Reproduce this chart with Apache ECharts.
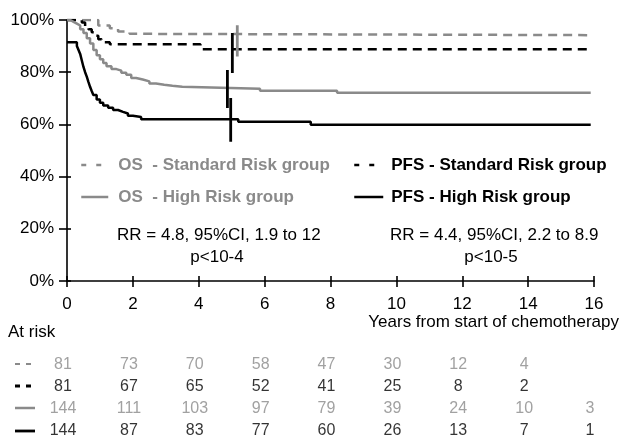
<!DOCTYPE html>
<html>
<head>
<meta charset="utf-8">
<script src="https://cdn.jsdelivr.net/npm/echarts@6/dist/echarts.min.js"></script>
<style>
html,body{margin:0;padding:0;background:#fff;}
#c{width:621px;height:443px;}
</style>
</head>
<body>
<div id="c"></div>
<script>
// ---- data ----
const xTicks = [0, 2, 4, 6, 8, 10, 12, 14, 16];
const yTicks = [0, 20, 40, 60, 80, 100];

const seriesNames = ['OS  - Standard Risk group', 'PFS - Standard Risk group', 'OS  - High Risk group', 'PFS - High Risk group'];

// Kaplan-Meier steps: [years, survival %]
const osStandard = [[0,100],[0.95,97.9],[1.3,96.8],[1.55,95.6],[1.9,94.7],[2.3,94.2],[15.9,94.2]];
const pfsStandard = [[0,100],[0.45,99],[0.55,97.7],[0.65,96.5],[0.75,95.3],[0.85,94],[0.95,92.6],[1.05,91.5],[1.3,90.7],[4.05,88.8],[15.9,88.8]];
const osHigh = [[0,100],[0.1,99.3],[0.2,98.6],[0.3,97.9],[0.4,96.5],[0.5,95],[0.6,93],[0.7,91],[0.8,88.5],[0.9,86.5],[1.0,85],[1.1,83.5],[1.2,82.3],[1.35,81.2],[1.5,80.6],[1.65,79.8],[1.8,79],[1.95,77.8],[2.1,77.2],[2.3,76.5],[2.5,75.7],[2.7,75.2],[2.95,74.8],[3.2,74.4],[3.5,73.7],[5.86,72.9],[8.2,72.1],[15.9,72.1]];
const pfsHigh = [[0,91.5],[0.3,90],[0.35,88.5],[0.4,87],[0.45,84.5],[0.5,82],[0.55,80],[0.6,78.3],[0.65,76.3],[0.7,74.4],[0.75,72.8],[0.8,71.3],[0.9,69.5],[1.0,68.3],[1.1,67.2],[1.25,66.4],[1.4,65.5],[1.55,64.8],[1.7,64.2],[1.85,63.3],[2.0,62.8],[2.25,62],[5.2,61],[7.4,59.9],[15.9,59.9]];

// vertical marker segments near 5 years: [x, yLow, yHigh, group]
const markSegments = [[5.17,86,98,'gray'],[5.02,79.7,95,'black'],[4.87,66.3,80.8,'black'],[4.97,53.4,70.1,'black']];

// numbers at risk
const riskRows = ['OS-SR','PFS-SR','OS-HR','PFS-HR'];
const atRiskOSStd = [81,73,70,58,47,30,12,4];
const atRiskPFSStd = [81,67,65,52,41,25,8,2];
const atRiskOSHigh = [144,111,103,97,79,39,24,10,3];
const atRiskPFSHigh = [144,87,83,77,60,26,13,7,1];

const annotLeft = ['RR = 4.8, 95%CI, 1.9 to 12', 'p<10-4'];
const annotRight = ['RR = 4.4, 95%CI, 2.2 to 8.9', 'p<10-5'];
const xTitle = 'Years from start of chemotherapy';
const riskTitle = 'At risk';

// ---- style ----
const GRAY = '#8a8a8a';
const BLACK = '#000';
const FONT = '"Liberation Sans", Arial, Helvetica, sans-serif';
const LW = 2.5;

const chart = echarts.init(document.getElementById('c'), null, {renderer: 'canvas'});

function kmSeries(name, data, color, dashed) {
  return {
    name: name, type: 'line', step: 'end', data: data,
    xAxisIndex: 0, yAxisIndex: 0,
    symbol: 'none', showSymbol: false, silent: true,
    lineStyle: {color: color, width: LW, type: dashed ? [9, 6] : 'solid', cap: 'butt'},
    itemStyle: {color: color},
    z: 3
  };
}

const series = [
  kmSeries(seriesNames[0], osStandard, GRAY, true),
  kmSeries(seriesNames[1], pfsStandard, BLACK, true),
  kmSeries(seriesNames[2], osHigh, GRAY, false),
  kmSeries(seriesNames[3], pfsHigh, BLACK, false)
];

markSegments.forEach(function (s) {
  series.push({
    type: 'line', data: [[s[0], s[1]], [s[0], s[2]]],
    xAxisIndex: 0, yAxisIndex: 0, symbol: 'none', silent: true,
    lineStyle: {color: s[3] === 'gray' ? GRAY : BLACK, width: 2.8},
    z: 4
  });
});

function riskSeries(values, rowIdx, color) {
  return {
    type: 'scatter', xAxisIndex: 2, yAxisIndex: 2,
    symbolSize: 0, silent: true,
    data: values.map(function (v, i) { return [xTicks[i], riskRows[rowIdx], v]; }),
    label: {
      show: true, position: 'inside', offset: [-4, 0],
      formatter: function (p) { return String(p.value[2]); },
      color: color, fontSize: 16, fontFamily: FONT
    }
  };
}
series.push(riskSeries(atRiskOSStd, 0, GRAY));
series.push(riskSeries(atRiskPFSStd, 1, BLACK));
series.push(riskSeries(atRiskOSHigh, 2, GRAY));
series.push(riskSeries(atRiskPFSHigh, 3, BLACK));

function legendItem(name, left, top, color, dash) {
  return {
    left: left, top: top, padding: 0, itemWidth: 32, itemHeight: 20,
    selectedMode: false,
    textStyle: {fontSize: 17, fontWeight: 'bold', fontFamily: FONT, color: color, lineHeight: 20},
    itemStyle: {color: 'transparent', borderWidth: 0, opacity: 0},
    data: [{name: name,
            itemStyle: {color: 'transparent', borderWidth: 0, opacity: 0},
            lineStyle: {type: dash, width: LW, color: color, dashOffset: 0, opacity: 1},
            textStyle: {color: color}}]
  };
}

const option = {
  animation: false,
  backgroundColor: '#fff',
  grid: [
    {left: 67, right: 27, top: 20, bottom: 162},
    {left: 67, right: 27, top: 353, height: 89}
  ],
  xAxis: [
    {gridIndex: 0, type: 'value', min: 0, max: 16, interval: 2,
     axisLine: {show: true, lineStyle: {color: BLACK, width: 1.6}},
     axisTick: {show: true, inside: false, length: 6, lineStyle: {color: BLACK, width: 1.6}},
     axisLabel: {show: true, margin: 15, color: BLACK, fontSize: 17, fontFamily: FONT},
     splitLine: {show: false}},
    {gridIndex: 0, type: 'value', min: 0, max: 16, interval: 2, position: 'bottom',
     axisLine: {show: false},
     axisTick: {show: true, inside: true, length: 5, lineStyle: {color: BLACK, width: 1.6}},
     axisLabel: {show: false}, splitLine: {show: false}},
    {gridIndex: 1, type: 'value', min: 0, max: 16, show: false}
  ],
  yAxis: [
    {gridIndex: 0, type: 'value', min: 0, max: 100, interval: 20,
     axisLine: {show: true, lineStyle: {color: BLACK, width: 1.6}},
     axisTick: {show: true, inside: false, length: 8, lineStyle: {color: BLACK, width: 1.6}},
     axisLabel: {show: true, margin: 13, color: BLACK, fontSize: 17, fontFamily: FONT, formatter: '{value}%'},
     splitLine: {show: false}},
    {gridIndex: 0, type: 'value', min: 0, max: 100, interval: 20, position: 'left',
     axisLine: {show: false},
     axisTick: {show: true, inside: true, length: 4, lineStyle: {color: BLACK, width: 1.6}},
     axisLabel: {show: false}, splitLine: {show: false}},
    {gridIndex: 1, type: 'category', data: riskRows, inverse: true, show: false}
  ],
  legend: [
    legendItem(seriesNames[0], 80, 155, GRAY, [5, 10, 5, 100]),
    legendItem(seriesNames[2], 80, 187, GRAY, [27, 100]),
    legendItem(seriesNames[1], 353, 155, BLACK, [5, 10, 5, 100]),
    legendItem(seriesNames[3], 353, 187, BLACK, [29, 100])
  ],
  graphic: [
    {type: 'text', x: 117, y: 235, silent: true,
     style: {text: annotLeft[0], font: '17px ' + FONT, fill: BLACK, textAlign: 'left', textVerticalAlign: 'middle'}},
    {type: 'text', x: 217, y: 257, silent: true,
     style: {text: annotLeft[1], font: '17px ' + FONT, fill: BLACK, textAlign: 'center', textVerticalAlign: 'middle'}},
    {type: 'text', x: 390, y: 235, silent: true,
     style: {text: annotRight[0], font: '17px ' + FONT, fill: BLACK, textAlign: 'left', textVerticalAlign: 'middle'}},
    {type: 'text', x: 491, y: 257, silent: true,
     style: {text: annotRight[1], font: '17px ' + FONT, fill: BLACK, textAlign: 'center', textVerticalAlign: 'middle'}},
    {type: 'text', x: 619, y: 322, silent: true,
     style: {text: xTitle, font: '17px ' + FONT, fill: BLACK, textAlign: 'right', textVerticalAlign: 'middle'}},
    {type: 'text', x: 8, y: 332, silent: true,
     style: {text: riskTitle, font: '17px ' + FONT, fill: BLACK, textAlign: 'left', textVerticalAlign: 'middle'}},
    // row keys of the at-risk table
    {type: 'line', silent: true, shape: {x1: 15, y1: 364, x2: 31, y2: 364}, style: {stroke: GRAY, lineWidth: 2.2, lineDash: [5, 6]}},
    {type: 'line', silent: true, shape: {x1: 15, y1: 386, x2: 31, y2: 386}, style: {stroke: BLACK, lineWidth: 2.8, lineDash: [5, 6]}},
    {type: 'line', silent: true, shape: {x1: 15, y1: 408, x2: 35, y2: 408}, style: {stroke: GRAY, lineWidth: 2.5}},
    {type: 'line', silent: true, shape: {x1: 15, y1: 431, x2: 35, y2: 431}, style: {stroke: BLACK, lineWidth: 2.8}}
  ],
  series: series
};
chart.setOption(option);
</script>
</body>
</html>
